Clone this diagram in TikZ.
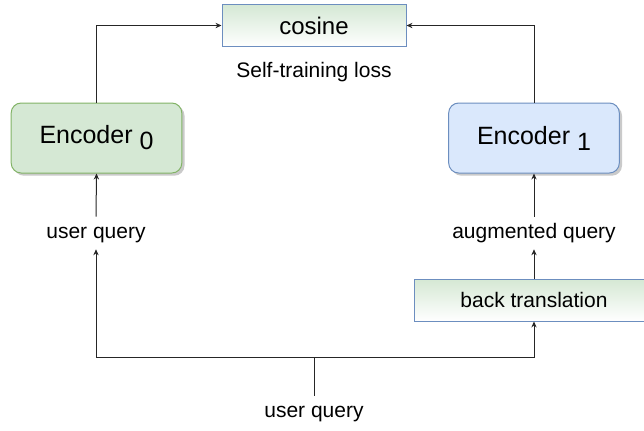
\documentclass[tikz,border=0pt]{standalone}
\usepackage{fontspec}
\setmainfont{Liberation Sans}
\usetikzlibrary{arrows.meta,shadows}
\definecolor{gfill}{HTML}{D5E8D4}
\definecolor{gline}{HTML}{82B366}
\definecolor{bfill}{HTML}{DAE8FC}
\definecolor{bline}{HTML}{6C8EBF}
\begin{document}
\begin{tikzpicture}[x=0.75pt,y=-0.75pt,
  conn/.style={draw=black!85,line width=0.75pt},
  arr/.style={conn,-{Stealth[length=4.5pt,width=4pt]}},
  gradbox/.style={draw=bline,line width=0.75pt,top color=gfill,bottom color=white,minimum height=31.5pt,inner sep=0pt},
  encbox/.style={rounded corners=7.5pt,line width=0.75pt,minimum width=128pt,minimum height=52.5pt,inner sep=0pt,font=\fontsize{18.75}{22}\selectfont,
    drop shadow={shadow xshift=2pt,shadow yshift=-2pt,fill=black!35,opacity=0.6}},
  lbl/.style={font=\fontsize{15.75}{18}\selectfont,inner xsep=1pt,inner ysep=4.5pt,text height=11.5pt,text depth=3.5pt}]
\useasboundingbox (0,0) rectangle (644,430);
\node[gradbox,minimum width=138pt,font=\fontsize{18}{21}\selectfont] (cos) at (314,25.5) {cosine};
\node[lbl] (stl) at (314,72) {Self-training loss};
\node[encbox,draw=gline,fill=gfill] (e0) at (96.5,138) {Encoder \raisebox{-4.5pt}{0}};
\node[encbox,draw=bline,fill=bfill] (e1) at (534,138) {Encoder \raisebox{-4.5pt}{1}};
\node[lbl] (uq0) at (96,233) {user query};
\node[lbl] (aq) at (534,233) {augmented query};
\node[gradbox,minimum width=180pt,font=\fontsize{15.75}{18}\selectfont] (bt) at (534,300) {back translation};
\node[lbl] (uq) at (314,412) {user query};
\coordinate (split) at (314,357);
\draw[arr] (e0.north) |- (cos.west);
\draw[arr] (e1.north) |- (cos.east);
\draw[arr] (uq0.north) -- (e0.south);
\draw[arr] (aq.north) -- (e1.south);
\draw[arr] (bt.north) -- (aq.south);
\draw[conn] (uq.north) -- (split);
\draw[arr] (split) -| (uq0.south);
\draw[arr] (split) -| (bt.south);
\end{tikzpicture}
\end{document}
